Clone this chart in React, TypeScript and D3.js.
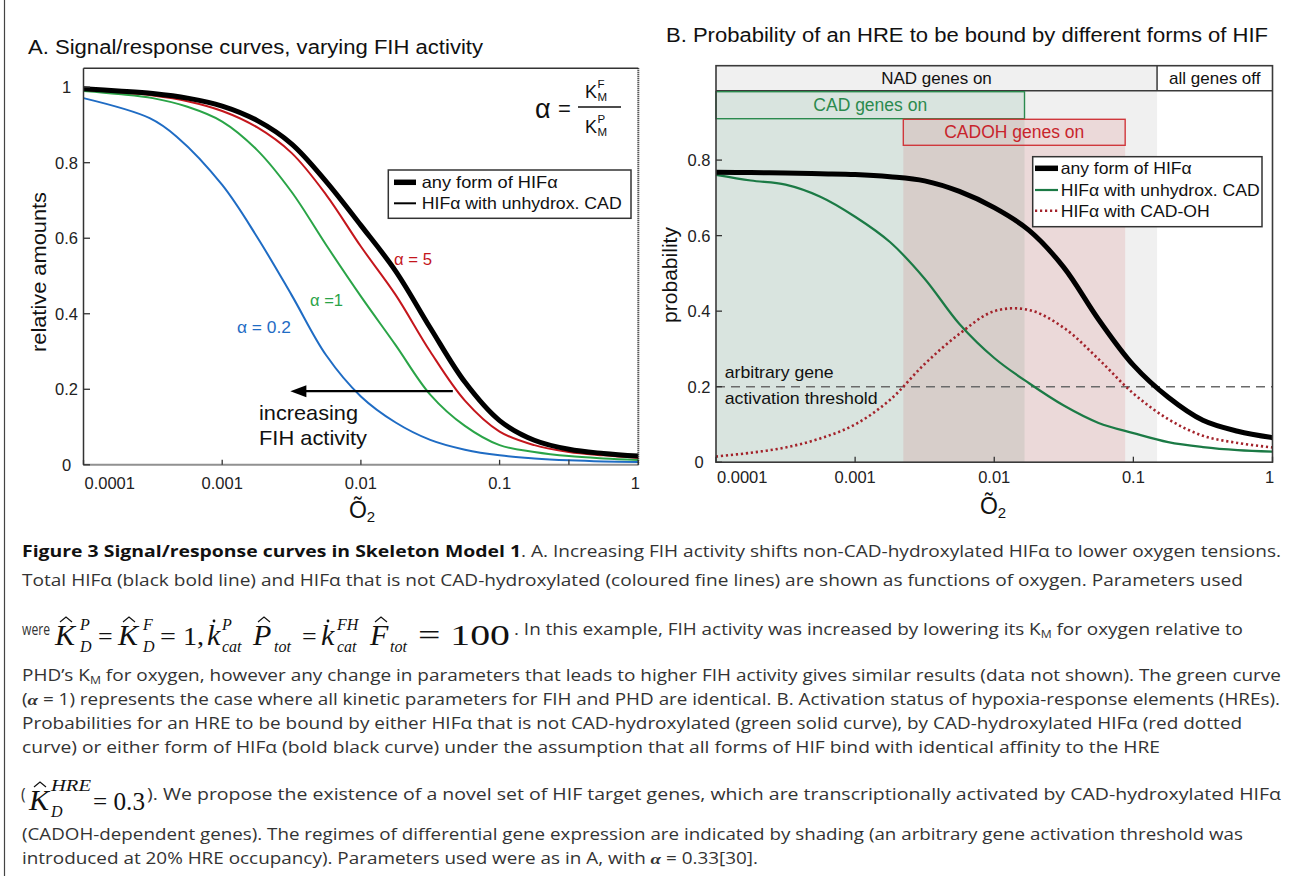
import React from 'react';
import * as d3 from 'd3';

// oxygen levels, one point every quarter decade
const o2Grid = [0.0001, 0.000178, 0.000316, 0.000562, 0.001, 0.00178, 0.00316, 0.00562, 0.01, 0.0178, 0.0316, 0.0562, 0.1, 0.178, 0.316, 0.562, 1];

// panel A - relative amounts
const anyFormA = [0.996, 0.99, 0.983, 0.971, 0.95, 0.912, 0.85, 0.75, 0.634, 0.513, 0.363, 0.219, 0.117, 0.065, 0.041, 0.03, 0.023];
const alpha5A = [0.993, 0.987, 0.978, 0.963, 0.937, 0.894, 0.826, 0.715, 0.578, 0.45, 0.3, 0.17, 0.088, 0.052, 0.034, 0.025, 0.018];
const alpha1A = [0.99, 0.982, 0.971, 0.948, 0.909, 0.834, 0.723, 0.582, 0.446, 0.317, 0.186, 0.103, 0.052, 0.034, 0.023, 0.017, 0.013];
// the alpha = 0.2 curve has a couple of kinks at low O2, so its own sample points
const alpha02O2 = [0.0001, 0.0003, 0.00047, 0.001, 0.00178, 0.00316, 0.00562, 0.01, 0.0178, 0.0316, 0.0562, 0.1, 0.178, 0.316, 0.562, 1];
const alpha02A = [0.971, 0.918, 0.869, 0.741, 0.604, 0.45, 0.29, 0.181, 0.112, 0.066, 0.04, 0.025, 0.017, 0.012, 0.009, 0.0075];

// panel B - probability of HRE bound
const anyFormB = [0.768, 0.767, 0.766, 0.764, 0.762, 0.756, 0.745, 0.717, 0.674, 0.614, 0.516, 0.378, 0.257, 0.172, 0.111, 0.082, 0.065];
const unhydroxB = [0.761, 0.746, 0.735, 0.703, 0.65, 0.583, 0.486, 0.366, 0.276, 0.209, 0.15, 0.104, 0.077, 0.053, 0.04, 0.032, 0.028];
const cadOhB = [0.015, 0.025, 0.039, 0.063, 0.1, 0.165, 0.26, 0.34, 0.4, 0.403, 0.356, 0.273, 0.182, 0.114, 0.07, 0.051, 0.039];

// regimes in panel B (where the curves cross the threshold)
const threshold = 0.2;
const nadOnRange = [0.0001, 0.148];
const cadOnRange = [0.0001, 0.0165];
const cadohOnRange = [0.00222, 0.0873];

// axes
const xTicks = [0.0001, 0.001, 0.01, 0.1, 1];
const xTickLabels = ['0.0001', '0.001', '0.01', '0.1', '1'];
const xMinorTicksA = [0.316];
const yTicksA = [0, 0.2, 0.4, 0.6, 0.8, 1];
const yTickLabelsA = ['0', '0.2', '0.4', '0.6', '0.8', '1'];
const yTicksB = [0, 0.2, 0.4, 0.6, 0.8];
const yTickLabelsB = ['0', '0.2', '0.4', '0.6', '0.8'];

// arrow "increasing FIH activity": from O2 to O2 at a given level
const arrowSpan = [0.046, 0.0031];
const arrowLevel = 0.195;

const fontChart = "'Liberation Sans', Arial, Helvetica, sans-serif";
const fontCap = "'Open Sans', 'Noto Sans', sans-serif";
const fontMath = "'Liberation Serif', 'DejaVu Serif', serif";

const colRedA = '#c4161c';
const colGreenA = '#2aa447';
const colBlueA = '#1f6cc4';
const colGreenB = '#1b7a45';
const colRedB = '#a3232b';

// scales
const xA = d3.scaleLog().domain([1e-4, 1]).range([83.5, 638.3]);
const yA = d3.scaleLinear().domain([0, 1.05]).range([464.8, 68.3]);
const xB = d3.scaleLog().domain([1e-4, 1]).range([716, 1272.5]);
const yB = d3.scaleLinear().domain([0, 1.05]).range([462.2, 65.7]);

function curve(xs: number[], ys: number[], x: any, y: any) {
  return d3.line<number>()
    .x((_, i) => x(xs[i]))
    .y(d => y(d))
    .curve(d3.curveCatmullRom.alpha(0.5))(ys) || '';
}

// little hat over a math letter
const hat = (x: number, y: number) => `M${x},${y} L${x + 6},${y - 5} L${x + 12},${y}`;

function XTickLabels({ x, y }: { x: any; y: number }) {
  return (
    <g fontFamily={fontChart} fontSize={16.5} fill="#222">
      {xTicks.map((t, i) => {
        const last = i === xTicks.length - 1;
        return (
          <text key={t} x={i === 0 ? x(t) + 1 : last ? x(t) - 3 : x(t)} y={y}
            textAnchor={i === 0 ? 'start' : 'middle'} dominantBaseline="central">
            {xTickLabels[i]}
          </text>
        );
      })}
    </g>
  );
}

function PanelA() {
  const [x0, x1] = xA.range();
  const [yb, yt] = yA.range();
  const ay = yA(arrowLevel);
  const tip = xA(arrowSpan[1]);
  return (
    <g>
      <text x={28} y={47} dominantBaseline="central" fontFamily={fontChart} fontSize={19.5}
        textLength={455} lengthAdjust="spacingAndGlyphs" fill="#111">
        A. Signal/response curves, varying FIH activity
      </text>

      <path d={curve(alpha02O2, alpha02A, xA, yA)} fill="none" stroke={colBlueA} strokeWidth={2} />
      <path d={curve(o2Grid, alpha1A, xA, yA)} fill="none" stroke={colGreenA} strokeWidth={2} />
      <path d={curve(o2Grid, alpha5A, xA, yA)} fill="none" stroke={colRedA} strokeWidth={2} />
      <path d={curve(o2Grid, anyFormA, xA, yA)} fill="none" stroke="#000" strokeWidth={5} />

      {/* arrow */}
      <line x1={xA(arrowSpan[0])} x2={tip + 12} y1={ay} y2={ay} stroke="#000" strokeWidth={2.2} />
      <path d={`M${tip},${ay} L${tip + 16},${ay - 6} L${tip + 16},${ay + 6} Z`} fill="#000" />
      <g fontFamily={fontChart} fontSize={21} fill="#111">
        <text x={259} y={412} dominantBaseline="central" textLength={99} lengthAdjust="spacingAndGlyphs">increasing</text>
        <text x={259} y={437} dominantBaseline="central" textLength={108} lengthAdjust="spacingAndGlyphs">FIH activity</text>
      </g>

      {/* curve labels */}
      <g fontFamily={fontChart} fontSize={16.5}>
        <text x={394} y={259} dominantBaseline="central" fill={colRedA} textLength={38} lengthAdjust="spacingAndGlyphs">α = 5</text>
        <text x={310} y={300} dominantBaseline="central" fill={colGreenA} textLength={33} lengthAdjust="spacingAndGlyphs">α =1</text>
        <text x={237} y={327} dominantBaseline="central" fill={colBlueA} textLength={54} lengthAdjust="spacingAndGlyphs">α = 0.2</text>
      </g>

      {/* alpha = KMF / KMP */}
      <g fontFamily={fontChart} fill="#111">
        <text x={535} y={109} dominantBaseline="central" fontSize={27}>α</text>
        <text x={558} y={108} dominantBaseline="central" fontSize={22}>=</text>
        <line x1={578} x2={621} y1={107} y2={107} stroke="#111" strokeWidth={1.3} />
        <text x={585} y={98} fontSize={18}>K</text>
        <text x={597.5} y={88} fontSize={11.5}>F</text>
        <text x={597.5} y={101} fontSize={11.5}>M</text>
        <text x={585} y={133} fontSize={18}>K</text>
        <text x={597.5} y={123} fontSize={11.5}>P</text>
        <text x={597.5} y={136} fontSize={11.5}>M</text>
      </g>

      {/* legend */}
      <rect x={388.3} y={170} width={242.7} height={48.3} fill="#fff" stroke="#333" strokeWidth={1.5} />
      <line x1={394} x2={416} y1={182.3} y2={182.3} stroke="#000" strokeWidth={5.5} />
      <line x1={394} x2={416} y1={203.3} y2={203.3} stroke="#000" strokeWidth={2} />
      <g fontFamily={fontChart} fontSize={16.5} fill="#111">
        <text x={421.7} y={182.3} dominantBaseline="central" textLength={136} lengthAdjust="spacingAndGlyphs">any form of HIFα</text>
        <text x={421.7} y={203.3} dominantBaseline="central" textLength={200} lengthAdjust="spacingAndGlyphs">HIFα with unhydrox. CAD</text>
      </g>

      {/* frame */}
      <line x1={x0} x2={x1} y1={yt} y2={yt} stroke="#333" strokeWidth={1.5} />
      <line x1={x0} x2={x0} y1={yt} y2={yb} stroke="#333" strokeWidth={1.5} />
      <line x1={x0} x2={x1} y1={yb} y2={yb} stroke="#222" strokeWidth={2} strokeDasharray="1 1" />
      <line x1={x1} x2={x1} y1={yt} y2={yb} stroke="#222" strokeWidth={2} strokeDasharray="1 1" />

      {/* ticks */}
      {xTicks.concat(xMinorTicksA).map(t => (
        <line key={'xt' + t} x1={xA(t)} x2={xA(t)} y1={yb} y2={yb - 5} stroke="#333" strokeWidth={1.3} />
      ))}
      {yTicksA.map(t => (
        <line key={'yt' + t} x1={x0} x2={x0 + 6.5} y1={yA(t)} y2={yA(t)} stroke="#333" strokeWidth={1.3} />
      ))}
      <g fontFamily={fontChart} fontSize={16.5} fill="#222">
        {yTicksA.map((t, i) => (
          <text key={'yl' + t} x={x0 - 17} y={yA(t)} textAnchor="middle" dominantBaseline="central">{yTickLabelsA[i]}</text>
        ))}
      </g>
      <XTickLabels x={xA} y={483} />

      <text transform="translate(38,272) rotate(-90)" textAnchor="middle" dominantBaseline="central"
        fontFamily={fontChart} fontSize={21} fill="#111" textLength={160} lengthAdjust="spacingAndGlyphs">
        relative amounts
      </text>
      <text x={362} y={510} textAnchor="middle" dominantBaseline="central" fontFamily={fontChart} fontSize={23} fill="#111">
        Õ<tspan fontSize={15} dy={6}>2</tspan>
      </text>
    </g>
  );
}

function PanelB() {
  const [x0, x1] = xB.range();
  const [yb, yt] = yB.range();
  const bandBottom = yt + 25;
  const cadTop = bandBottom + 1;
  const cadBottom = cadTop + 27;
  const cadohTop = cadBottom + 0.6;
  const cadohBottom = cadohTop + 26;
  const nadEnd = xB(nadOnRange[1]);
  return (
    <g>
      <text x={666} y={35} dominantBaseline="central" fontFamily={fontChart} fontSize={19.5}
        textLength={602} lengthAdjust="spacingAndGlyphs" fill="#111">
        B. Probability of an HRE to be bound by different forms of HIF
      </text>

      {/* regime shading */}
      <rect x={xB(nadOnRange[0])} y={bandBottom} width={nadEnd - xB(nadOnRange[0])} height={yb - bandBottom} fill="#f0f0f0" />
      <rect x={xB(cadOnRange[0])} y={cadTop} width={xB(cadOnRange[1]) - xB(cadOnRange[0])} height={yb - cadTop}
        fill="rgb(0,120,60)" fillOpacity={0.096} />
      <rect x={xB(cadohOnRange[0])} y={cadohTop} width={xB(cadohOnRange[1]) - xB(cadohOnRange[0])} height={yb - cadohTop}
        fill="rgb(200,30,30)" fillOpacity={0.105} />

      {/* header band */}
      <rect x={x0} y={yt} width={nadEnd - x0} height={bandBottom - yt} fill="#f0f0f0" />
      <line x1={x0} x2={x1} y1={bandBottom} y2={bandBottom} stroke="#3a3a3a" strokeWidth={1.5} />
      <line x1={nadEnd} x2={nadEnd} y1={yt} y2={bandBottom} stroke="#3a3a3a" strokeWidth={1.5} />
      <g fontFamily={fontChart} fontSize={17} fill="#111">
        <text x={(x0 + nadEnd) / 2} y={(yt + bandBottom) / 2} textAnchor="middle" dominantBaseline="central">NAD genes on</text>
        <text x={(nadEnd + x1) / 2} y={(yt + bandBottom) / 2} textAnchor="middle" dominantBaseline="central">all genes off</text>
      </g>

      {/* CAD / CADOH boxes */}
      <rect x={xB(cadOnRange[0])} y={cadTop} width={xB(cadOnRange[1]) - xB(cadOnRange[0])} height={cadBottom - cadTop}
        fill="none" stroke="#2b8a4e" strokeWidth={1.4} />
      <text x={(xB(cadOnRange[0]) + xB(cadOnRange[1])) / 2} y={(cadTop + cadBottom) / 2} textAnchor="middle"
        dominantBaseline="central" fontFamily={fontChart} fontSize={17.5} fill="#2b8a4e">CAD genes on</text>
      <rect x={xB(cadohOnRange[0])} y={cadohTop} width={xB(cadohOnRange[1]) - xB(cadohOnRange[0])} height={cadohBottom - cadohTop}
        fill="none" stroke="#d0383c" strokeWidth={1.4} />
      <text x={(xB(cadohOnRange[0]) + xB(cadohOnRange[1])) / 2} y={(cadohTop + cadohBottom) / 2} textAnchor="middle"
        dominantBaseline="central" fontFamily={fontChart} fontSize={17.5} fill="#c8242c">CADOH genes on</text>

      {/* threshold */}
      <line x1={x0} x2={x1} y1={yB(threshold)} y2={yB(threshold)} stroke="#6a6a6a" strokeWidth={1.6} strokeDasharray="9 6" />
      <g fontFamily={fontChart} fontSize={17} fill="#111">
        <text x={724.7} y={372.3} dominantBaseline="central" textLength={109} lengthAdjust="spacingAndGlyphs">arbitrary gene</text>
        <text x={724.7} y={398.3} dominantBaseline="central" textLength={153} lengthAdjust="spacingAndGlyphs">activation threshold</text>
      </g>

      {/* curves */}
      <path d={curve(o2Grid, unhydroxB, xB, yB)} fill="none" stroke={colGreenB} strokeWidth={2.2} />
      <path d={curve(o2Grid, cadOhB, xB, yB)} fill="none" stroke={colRedB} strokeWidth={2.6} strokeDasharray="2.2 2.8" />
      <path d={curve(o2Grid, anyFormB, xB, yB)} fill="none" stroke="#000" strokeWidth={5} />

      {/* legend */}
      <rect x={1032.7} y={156.7} width={229.3} height={70} fill="#fff" stroke="#333" strokeWidth={1.5} />
      <line x1={1035} x2={1058} y1={168.3} y2={168.3} stroke="#000" strokeWidth={5.5} />
      <line x1={1035} x2={1058} y1={190} y2={190} stroke={colGreenB} strokeWidth={2.2} />
      <line x1={1035} x2={1058} y1={210.7} y2={210.7} stroke={colRedB} strokeWidth={2.6} strokeDasharray="2.2 2.8" />
      <g fontFamily={fontChart} fontSize={16.5} fill="#111">
        <text x={1060.7} y={168.3} dominantBaseline="central" textLength={131} lengthAdjust="spacingAndGlyphs">any form of HIFα</text>
        <text x={1060.7} y={190} dominantBaseline="central" textLength={199} lengthAdjust="spacingAndGlyphs">HIFα with unhydrox. CAD</text>
        <text x={1060.7} y={210.7} dominantBaseline="central" textLength={149} lengthAdjust="spacingAndGlyphs">HIFα with CAD-OH</text>
      </g>

      {/* frame */}
      <rect x={x0} y={yt} width={x1 - x0} height={yb - yt} fill="none" stroke="#3a3a3a" strokeWidth={1.6} />

      {xTicks.map(t => (
        <line key={'xt' + t} x1={xB(t)} x2={xB(t)} y1={yb} y2={yb - 5.5} stroke="#333" strokeWidth={1.3} />
      ))}
      {yTicksB.map(t => (
        <line key={'yt' + t} x1={x0} x2={x0 + 6} y1={yB(t)} y2={yB(t)} stroke="#333" strokeWidth={1.3} />
      ))}
      <g fontFamily={fontChart} fontSize={16.5} fill="#222">
        {yTicksB.map((t, i) => (
          <text key={'yl' + t} x={x0 - 17} y={yB(t)} textAnchor="middle" dominantBaseline="central">{yTickLabelsB[i]}</text>
        ))}
      </g>
      <XTickLabels x={xB} y={477} />

      <text transform="translate(669,275) rotate(-90)" textAnchor="middle" dominantBaseline="central"
        fontFamily={fontChart} fontSize={21} fill="#111" textLength={96} lengthAdjust="spacingAndGlyphs">
        probability
      </text>
      <text x={993} y={506} textAnchor="middle" dominantBaseline="central" fontFamily={fontChart} fontSize={23} fill="#111">
        Õ<tspan fontSize={15} dy={6}>2</tspan>
      </text>
    </g>
  );
}

function Caption() {
  const capFill = '#333';
  const greekB = <tspan fontFamily={fontMath} fontStyle="italic" fontWeight="bold">α</tspan>;
  const T = (props: any) => (
    <text fontFamily={fontCap} fontSize={15.5} fill={capFill} lengthAdjust="spacingAndGlyphs" {...props} />
  );
  const m = (x: number, y: number, s: string, size: number, italic = true, len?: number) => (
    <text x={x} y={y} fontFamily={fontMath} fontSize={size} fontStyle={italic ? 'italic' : 'normal'} fill="#111"
      textLength={len} lengthAdjust={len ? 'spacingAndGlyphs' : undefined}>{s}</text>
  );
  const fb = 645; // formula baseline, line 3
  const f2 = 810; // formula baseline, line 8
  const sup = -15;
  const sub = 7;
  return (
    <g>
      <T x={22} y={557} fontWeight="bold" fill="#111" textLength={499}>Figure 3 Signal/response curves in Skeleton Model 1</T>
      <T x={521} y={557} textLength={760}>. A. Increasing FIH activity shifts non-CAD-hydroxylated HIFα to lower oxygen tensions.</T>
      <T x={22} y={586} textLength={1221}>Total HIFα (black bold line) and HIFα that is not CAD-hydroxylated (coloured fine lines) are shown as functions of oxygen. Parameters used</T>

      <T x={22} y={635} textLength={28}>were</T>
      {m(55, fb, 'K', 30)}
      <path d={hat(60, fb - 23)} fill="none" stroke="#111" strokeWidth={1.2} />
      {m(80, fb + sup, 'P', 16)}
      {m(80, fb + sub, 'D', 16)}
      {m(98, fb, '=', 26, false)}
      {m(118, fb, 'K', 30)}
      <path d={hat(123, fb - 23)} fill="none" stroke="#111" strokeWidth={1.2} />
      {m(143, fb + sup, 'F', 16)}
      {m(143, fb + sub, 'D', 16)}
      {m(160, fb, '= 1,', 26, false, 44)}
      {m(207, fb, 'k', 30)}
      <circle cx={214} cy={fb - 24} r={1.4} fill="#111" />
      {m(222, fb + sup, 'P', 16)}
      {m(222, fb + sub, 'cat', 16)}
      {m(253, fb, 'P', 30)}
      <path d={hat(258, fb - 23)} fill="none" stroke="#111" strokeWidth={1.2} />
      {m(274, fb + sub, 'tot', 16)}
      {m(302, fb, '=', 26, false)}
      {m(321, fb, 'k', 30)}
      <circle cx={328} cy={fb - 24} r={1.4} fill="#111" />
      {m(337, fb + sup, 'FH', 16)}
      {m(337, fb + sub, 'cat', 16)}
      {m(370, fb, 'F', 30)}
      <path d={hat(375, fb - 23)} fill="none" stroke="#111" strokeWidth={1.2} />
      {m(390, fb + sub, 'tot', 16)}
      {m(418, fb, '= 100', 30, false, 92)}
      <T x={514} y={635} textLength={729}>. In this example, FIH activity was increased by lowering its K<tspan fontSize={10} dy={3}>M</tspan><tspan dy={-3}> for oxygen relative to</tspan></T>

      <T x={22} y={681} textLength={1259}>PHD’s K<tspan fontSize={10} dy={3}>M</tspan><tspan dy={-3}> for oxygen, however any change in parameters that leads to higher FIH activity gives similar results (data not shown). The green curve</tspan></T>
      <T x={22} y={705} textLength={1258}>({greekB} = 1) represents the case where all kinetic parameters for FIH and PHD are identical. B. Activation status of hypoxia-response elements (HREs).</T>
      <T x={22} y={729} textLength={1220}>Probabilities for an HRE to be bound by either HIFα that is not CAD-hydroxylated (green solid curve), by CAD-hydroxylated HIFα (red dotted</T>
      <T x={22} y={753} textLength={1138}>curve) or either form of HIFα (bold black curve) under the assumption that all forms of HIF bind with identical affinity to the HRE</T>

      <T x={21} y={800}>(</T>
      {m(29, f2, 'K', 30)}
      <path d={hat(34, f2 - 23)} fill="none" stroke="#111" strokeWidth={1.2} />
      {m(51, f2 - 19, 'HRE', 16, true, 40)}
      {m(51, f2 + sub, 'D', 16)}
      {m(93, f2, '= 0.3', 26, false, 52)}
      <T x={147} y={800} textLength={1134}>). We propose the existence of a novel set of HIF target genes, which are transcriptionally activated by CAD-hydroxylated HIFα</T>

      <T x={22} y={840} textLength={1221}>(CADOH-dependent genes). The regimes of differential gene expression are indicated by shading (an arbitrary gene activation threshold was</T>
      <T x={22} y={864} textLength={736}>introduced at 20% HRE occupancy). Parameters used were as in A, with {greekB} = 0.33[30].</T>
    </g>
  );
}

export default function App() {
  return (
    <svg width={1289} height={876} viewBox="0 0 1289 876"
      style={{ position: 'absolute', left: 0, top: 0, background: '#fff' }}>
      <rect x={0} y={0} width={1289} height={876} fill="#fff" />
      <line x1={4.5} x2={4.5} y1={0} y2={876} stroke="#444" strokeWidth={1.2} />
      <PanelA />
      <PanelB />
      <Caption />
    </svg>
  );
}
